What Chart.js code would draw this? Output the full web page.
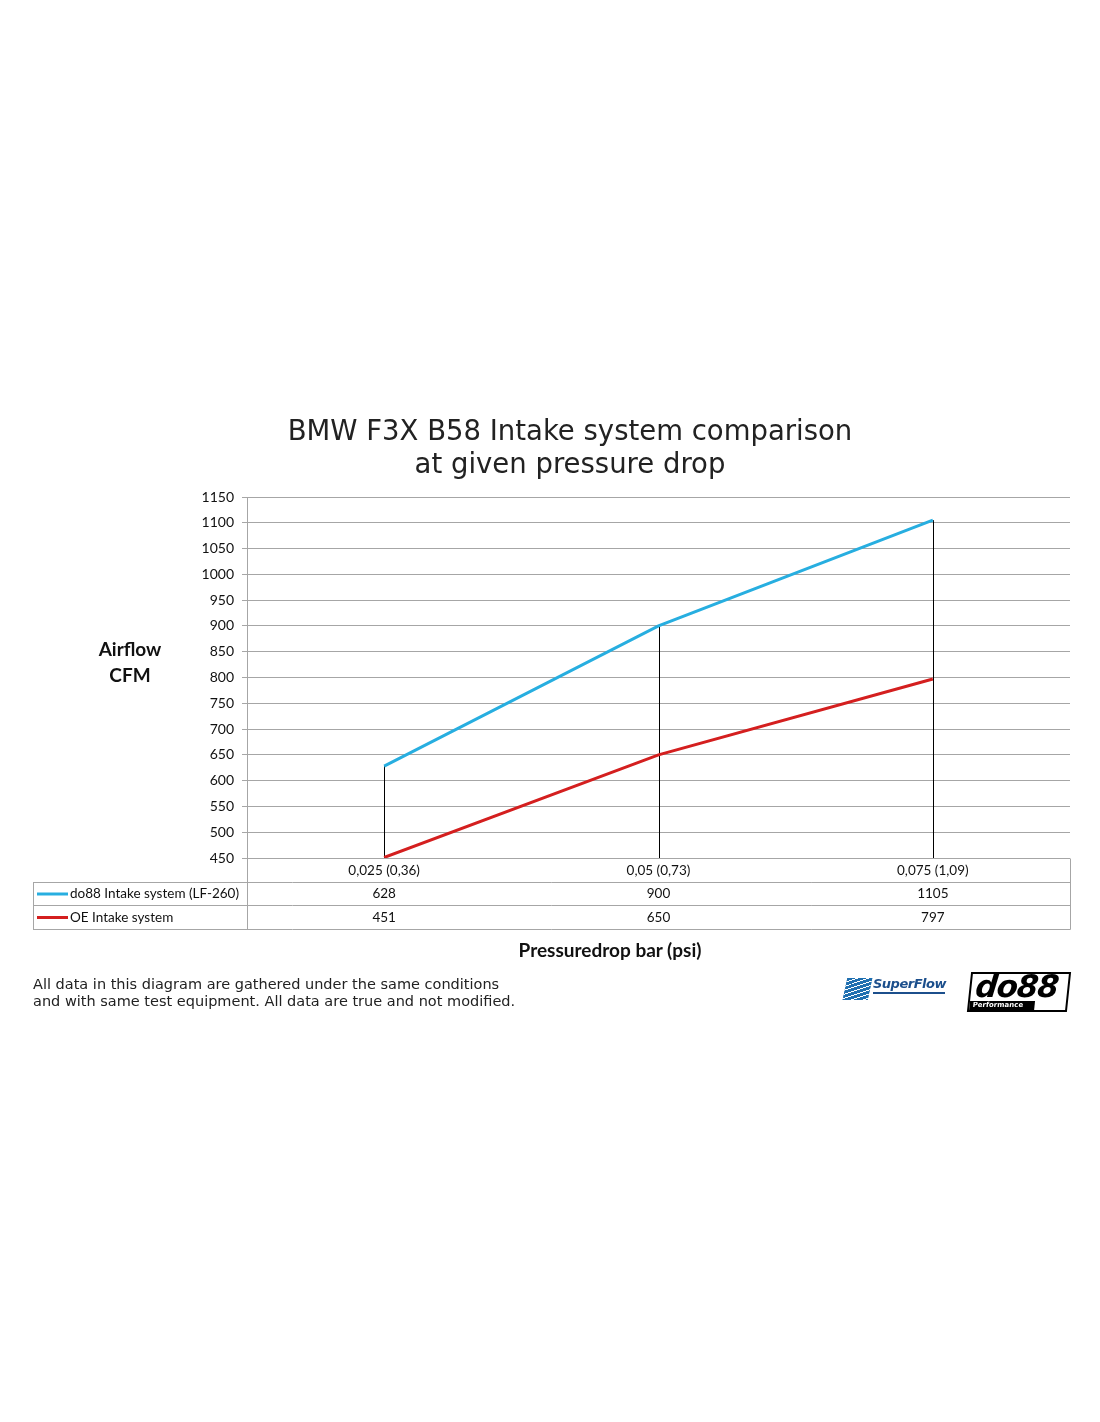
<!DOCTYPE html>
<html>
<head>
<meta charset="utf-8">
<script src="https://cdn.jsdelivr.net/npm/chart.js@4.4.1/dist/chart.umd.min.js"></script>
<style>
  html, body { margin: 0; padding: 0; background: #fff; }
  #wrap { position: relative; width: 1100px; height: 1422px; }
  #chart { position: absolute; left: 0; top: 0; }
  .title {
    position: absolute; left: 0; width: 1140px; top: 414px; text-align: center;
    font-family: "DejaVu Sans", Verdana, sans-serif; font-size: 27.5px; line-height: 33px; color: #222;
  }
  .ytitle {
    position: absolute; left: 70px; width: 120px; top: 636px; text-align: center;
    font-family: Lato, sans-serif; font-weight: bold; font-size: 19px; line-height: 26px; color: #111;
  }
  .xtitle {
    position: absolute; left: 410px; width: 400px; top: 938px; text-align: center;
    font-family: Lato, sans-serif; font-weight: bold; font-size: 19px; color: #111;
  }
  .note {
    position: absolute; left: 33px; top: 976px;
    font-family: "DejaVu Sans", Verdana, sans-serif; font-size: 14.5px; line-height: 17px; color: #222;
  }
  .sf { position: absolute; left: 845px; top: 976px; width: 105px; height: 26px; }
  .sf .icon { position: absolute; left: 0; top: 2px; width: 25px; height: 22px; background: #1f6fb0; transform: skewX(-12deg);
    background-image: repeating-linear-gradient(160deg, #1f6fb0 0 3px, #fff 3px 4px); }
  .sf .txt { position: absolute; left: 28px; top: 0; font-family: "DejaVu Sans", sans-serif; font-style: italic; font-weight: bold;
    font-size: 13px; color: #1c4f8c; letter-spacing: -0.5px; }
  .sf .sub { position: absolute; left: 28px; top: 16px; width: 72px; height: 2px; background: #1c4f8c; }
  .do { position: absolute; left: 969px; top: 972px; width: 96px; height: 36px; border: 2px solid #000; transform: skewX(-6deg); }
  .do .big { position: absolute; left: 4px; top: -6px; font-family: "DejaVu Sans", sans-serif; font-weight: bold; font-style: italic;
    font-size: 31px; color: #000; letter-spacing: -1px; }
  .do .strip { position: absolute; left: 0; bottom: 0; width: 62px; height: 9px; background: #000; color: #fff;
    font-family: "DejaVu Sans", sans-serif; font-weight: bold; font-size: 7px; line-height: 9px; padding-left: 3px; }
</style>
</head>
<body>
<div id="wrap">
  <canvas id="chart" width="1100" height="1422"></canvas>
  <div class="title">BMW F3X B58 Intake system comparison<br>at given pressure drop</div>
  <div class="ytitle">Airflow<br>CFM</div>
  <div class="xtitle">Pressuredrop bar (psi)</div>
  <div class="note">All data in this diagram are gathered under the same conditions<br>and with same test equipment. All data are true and not modified.</div>
  <div class="sf"><div class="icon"></div><div class="txt">SuperFlow</div><div class="sub"></div></div>
  <div class="do"><div class="big">do88</div><div class="strip">Performance</div></div>
</div>
<script>
const categories = ["0,025 (0,36)", "0,05 (0,73)", "0,075 (1,09)"];
const do88Values = [628, 900, 1105];
const oeValues = [451, 650, 797];
const seriesNames = ["do88 Intake system (LF-260)", "OE Intake system"];
const seriesColors = ["#27aee0", "#d41f1f"];

const tableFont = "13.5px Lato, sans-serif";
const lineGray = "#a6a6a6";

// black drop lines from the highest point of each category down to the axis
const dropLines = {
  id: "dropLines",
  beforeDatasetsDraw(chart) {
    const { ctx, scales: { x, y }, chartArea } = chart;
    ctx.save();
    ctx.strokeStyle = "#000";
    ctx.lineWidth = 1;
    categories.forEach((c, i) => {
      const px = Math.round(x.getPixelForValue(i)) + 0.5;
      const top = y.getPixelForValue(Math.max(do88Values[i], oeValues[i]));
      ctx.beginPath();
      ctx.moveTo(px, top);
      ctx.lineTo(px, chartArea.bottom);
      ctx.stroke();
    });
    ctx.restore();
  }
};

// data table under the plot
const dataTable = {
  id: "dataTable",
  afterDraw(chart) {
    const { ctx, scales: { x }, chartArea } = chart;
    const tableLeft = 33;
    const left = Math.round(chartArea.left) + 0.5;
    const right = Math.round(chartArea.right) + 0.5;
    const r0 = Math.round(chartArea.bottom) + 0.5;
    const rowH = 23.5;
    const rows = [r0, r0 + rowH, r0 + rowH * 2, r0 + rowH * 3].map(v => Math.round(v - 0.5) + 0.5);
    ctx.save();
    ctx.strokeStyle = lineGray;
    ctx.lineWidth = 1;
    ctx.beginPath();
    ctx.moveTo(left, r0); ctx.lineTo(left, rows[3]);
    ctx.moveTo(right, r0); ctx.lineTo(right, rows[3]);
    ctx.moveTo(tableLeft + 0.5, rows[1]); ctx.lineTo(tableLeft + 0.5, rows[3]);
    for (let k = 1; k <= 3; k++) {
      ctx.moveTo(tableLeft, rows[k]); ctx.lineTo(right, rows[k]);
    }
    ctx.stroke();

    ctx.fillStyle = "#111";
    ctx.font = tableFont;
    ctx.textAlign = "center";
    ctx.textBaseline = "middle";
    const mid = k => (rows[k] + rows[k + 1]) / 2;
    categories.forEach((c, i) => {
      const px = x.getPixelForValue(i);
      ctx.fillText(c, px, mid(0));
      ctx.fillText(String(do88Values[i]), px, mid(1));
      ctx.fillText(String(oeValues[i]), px, mid(2));
    });

    ctx.textAlign = "left";
    seriesNames.forEach((name, s) => {
      const yy = mid(s + 1);
      ctx.strokeStyle = seriesColors[s];
      ctx.lineWidth = 3;
      ctx.beginPath();
      ctx.moveTo(37, yy); ctx.lineTo(68, yy);
      ctx.stroke();
      ctx.fillText(name, 70, yy);
    });
    ctx.restore();
  }
};

new Chart(document.getElementById("chart"), {
  type: "line",
  data: {
    labels: categories,
    datasets: [
      { label: seriesNames[0], data: do88Values, borderColor: seriesColors[0], borderWidth: 3, pointRadius: 0, tension: 0 },
      { label: seriesNames[1], data: oeValues, borderColor: seriesColors[1], borderWidth: 3, pointRadius: 0, tension: 0 },
    ],
  },
  options: {
    responsive: false,
    animation: false,
    layout: { padding: { left: 187, right: 30, top: 497, bottom: 564 } },
    plugins: { legend: { display: false }, tooltip: { enabled: false } },
    scales: {
      x: {
        offset: true,
        ticks: { display: false },
        grid: { display: false, drawTicks: false },
        border: { display: false },
        afterFit: s => { s.height = 0; },
      },
      y: {
        min: 450,
        max: 1150,
        ticks: { stepSize: 50, padding: 8, color: "#111", font: { family: "Lato, sans-serif", size: 14 },
          callback: v => String(v) },
        grid: { color: lineGray, tickLength: 5 },
        border: { color: lineGray },
        afterFit: s => { s.width = 60; },
      },
    },
  },
  plugins: [dropLines, dataTable],
});
</script>
</body>
</html>
